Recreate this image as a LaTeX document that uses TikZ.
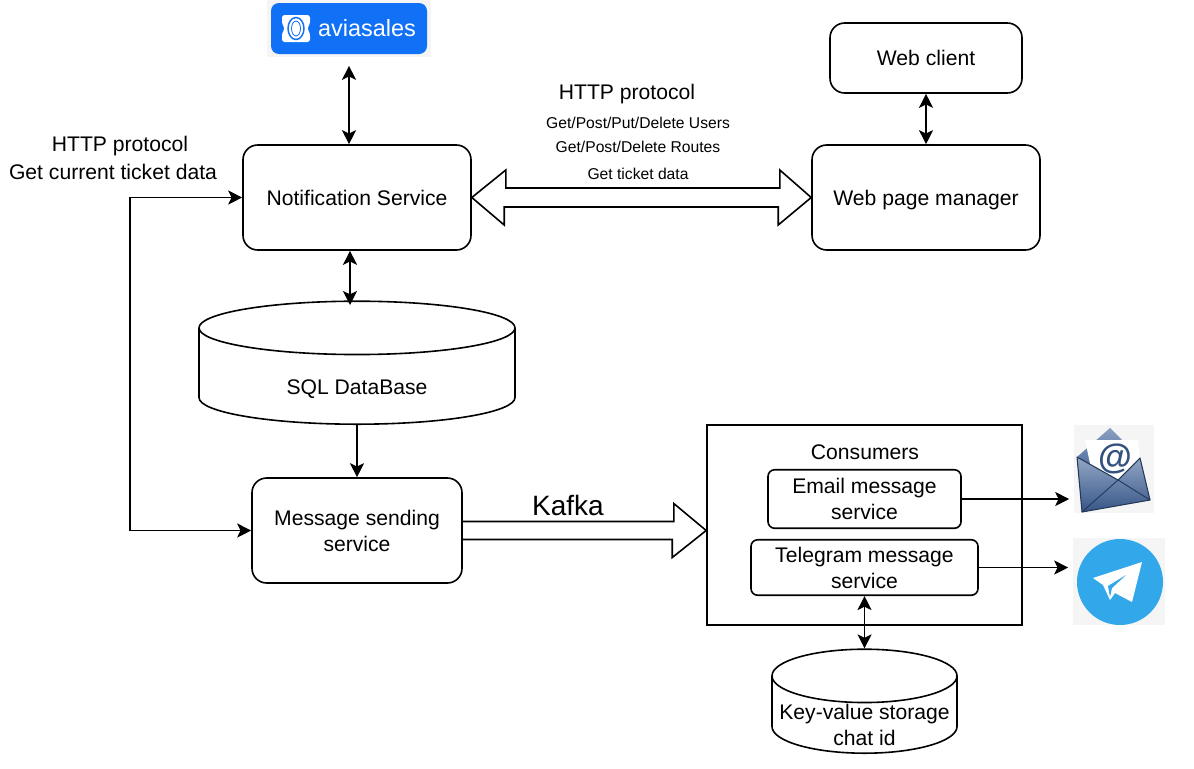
\documentclass[tikz,border=0pt]{standalone}
\usepackage{fontspec}
\setmainfont{Liberation Sans}
\usetikzlibrary{arrows.meta,shapes.geometric}
\definecolor{aviablue}{RGB}{16,112,246}
\definecolor{tgblue}{RGB}{50,168,234}
\definecolor{logogray}{RGB}{245,245,245}
\definecolor{mailblue}{RGB}{60,95,150}

\begin{document}
\begin{tikzpicture}[x=0.75pt,y=-0.75pt,>={Stealth[length=10.5pt,width=10.5pt,inset=2.5pt]},line width=1.2pt]
		\tikzstyle{service}=[rectangle, rounded corners=11pt, draw=black, align=center, font=\fontsize{15.85}{19.5}\selectfont]
		\tikzstyle{store}=[cylinder, shape border rotate=90, draw=black, anchor=south, aspect=6]
		\tikzstyle{caption}=[align=center, font=\fontsize{15.85}{19.5}\selectfont]
		\tikzstyle{small caption}=[font=\fontsize{11.75}{14}\selectfont]
		\tikzstyle{logo back}=[rectangle, fill=logogray, inner sep=0pt]
		\useasboundingbox (0,0) rectangle (1194,768);

		\node [service,minimum width=171pt,minimum height=78.75pt] (notif) at (357,197.5) {Notification Service};
		\node [service,minimum width=171pt,minimum height=78.75pt,text depth=0pt] (manager) at (926,197.5) {Web page manager};
		\node [service,minimum width=144pt,minimum height=52.5pt] (client) at (926,58) {Web client};
		\node [service,minimum width=157.5pt,minimum height=78.75pt] (sender) at (357,530.5) {Message sending\\service};
		\node [store,minimum width=237pt,minimum height=92.25pt] (sql) at (357,425) {};
		\node [caption] (sqltext) at (357,389) {SQL DataBase};
		\node [rectangle,draw=black,minimum width=236.25pt,minimum height=150pt] (consumers) at (864.5,525) {};
		\node [caption] (consumerstext) at (865,452) {Consumers};
		\node [service,rounded corners=5pt,minimum width=144.75pt,minimum height=43.9pt] (email) at (864.5,499) {Email message\\service};
		\node [service,rounded corners=5pt,minimum width=170.25pt,minimum height=41.6pt] (telegram) at (864.5,567.5) {Telegram message\\service};
		\node [store,minimum width=138.75pt,minimum height=78pt] (kv) at (864.5,754) {};
		\node [caption] (kvtext) at (864.5,725) {Key-value storage\\chat id};

		% labels
		\node [caption] (leftproto) at (120,146.5) {HTTP protocol};
		\node [caption] (lefttext) at (113,172) {Get current ticket data};
		\node [caption] (topproto) at (627,94.5) {HTTP protocol};
		\node [small caption] (users) at (638,123) {Get/Post/Put/Delete Users};
		\node [small caption] (routes) at (638,147) {Get/Post/Delete Routes};
		\node [small caption] (ticket) at (638,174) {Get ticket data};
		\node [font=\fontsize{21}{24}\selectfont] (kafka) at (568,505) {Kafka};

		% logos
		\node [logo back,minimum width=123pt,minimum height=42.75pt] (avia) at (349,28.5) {};
		\fill [aviablue,rounded corners=6pt] (271,3) rectangle (427,54);
		\fill [white,rounded corners=2pt] (282,15) -- (310,15) -- (310,24) -- (307,28.5) -- (310,33) -- (310,42) -- (282,42) -- (282,33) -- (285,28.5) -- (282,24) -- cycle;
		\draw [aviablue,line width=1.1pt] (296,28.5) ellipse (8 and 11);
		\draw [aviablue,line width=.6pt] (296,28.5) ellipse (4.5 and 7.5);
		\node [text=white,font=\fontsize{17.6}{20}\selectfont] (avianame) at (367,28.5) {aviasales};

		\node [logo back,minimum width=60pt,minimum height=66pt] (mail) at (1114,469) {};
		\shade [top color=mailblue!60!white,bottom color=mailblue] (1077,457) -- (1110,428) -- (1140,458) -- (1118,480) -- cycle;
		\fill [white] (1085,440) -- (1138,440) -- (1140,462) -- (1118,480) -- (1091,468) -- cycle;
		\node [text=mailblue!85!black,font=\bfseries\fontsize{26}{28}\selectfont] (mailat) at (1115,459) {@};
		\shade [top color=mailblue!55!white,bottom color=mailblue!90!black,draw=mailblue!60!black,line width=.8pt,line join=round] (1077,457) -- (1118,480) -- (1140,458) -- (1150,500) -- (1082,512) -- cycle;
		\draw [mailblue!60!black,line width=.7pt] (1082,512) -- (1118,480) -- (1150,500);

		\node [logo back,minimum width=69pt,minimum height=65.25pt] (tg) at (1119,581.5) {};
		\fill [tgblue] (1120,582) circle (43);
		\fill [white,line join=round] (1142,562) -- (1093,578) -- (1103,585) -- (1110,600) -- (1115,593) -- (1132,602) -- cycle;
		\fill [tgblue] (1126,575) -- (1108,586) -- (1110,597) -- (1112,588) -- cycle;

		% connectors
		\draw [<->,shorten <=6pt] (avia.south) -- (avia.south |- notif.north);
		\draw [<->] (notif.south -| 350,0) -- (350,305);
		\draw [->] (sql.south) -- (sender.north);
		\draw [<->] (client.south) -- (manager.north);
		\draw [<->] (notif.west) -- (130,197.5) -- (130,530.5) -- (sender.west);
		\draw [->] (email.east) -- ([xshift=-3pt]email.east -| mail.west);
		\draw [->] (telegram.east) -- ([xshift=-3pt]telegram.east -| tg.west);
		\draw [<->] (telegram.south) -- (kv.north);
		\draw [line join=miter] (notif.east) -- ++(34,-27.5) -- ++(0,18) -- ++(274,0) -- ++(0,-18) -- (manager.west) -- ++(-33,27.5) -- ++(0,-18) -- ++(-274,0) -- ++(0,18) -- cycle;
		\draw [line join=miter] ([yshift=6.75pt]sender.east) -- ++(211,0) -- ++(0,-18) -- (sender.east -| consumers.west) -- ++(-34,27) -- ++(0,-18) -- ++(-211,0);
	\end{tikzpicture}
\end{document}
